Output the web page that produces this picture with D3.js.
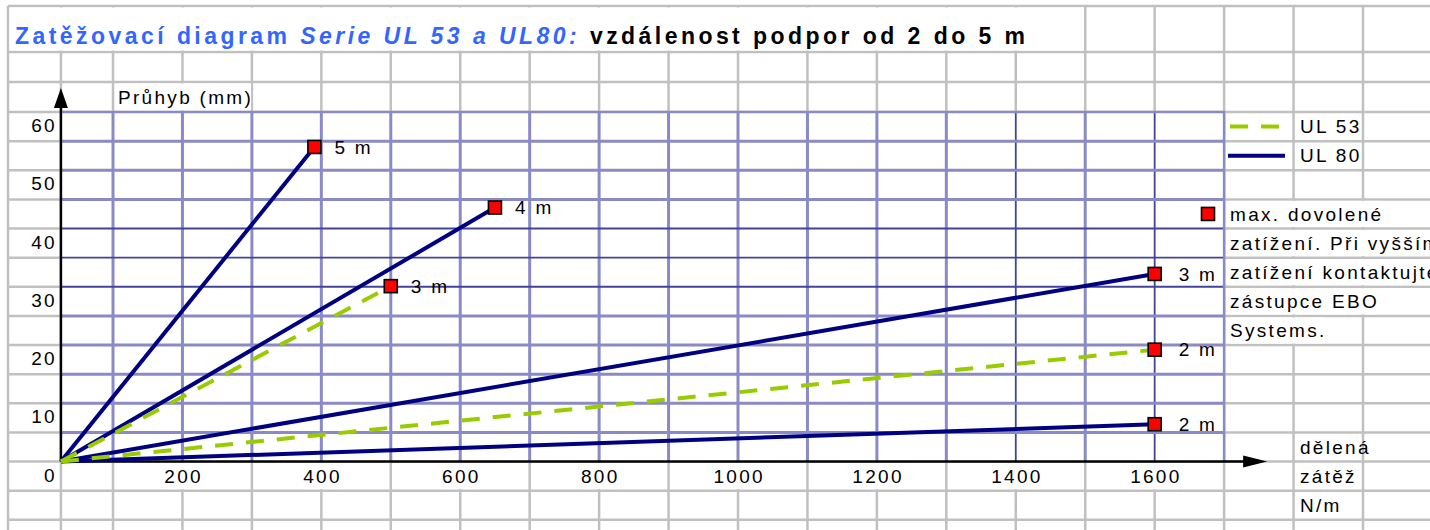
<!DOCTYPE html>
<html>
<head>
<meta charset="utf-8">
<script src="https://d3js.org/d3.v7.min.js"></script>
<style>
  body { margin: 0; background: #fff; }
  text { font-family: "Liberation Sans", Arial, sans-serif; }
</style>
</head>
<body>
<svg id="chart"></svg>
<script>
// chart size
const width = 1430;
const height = 530;

// values: load in N/m, deflection in mm
const startLoad = 25;
const ul80Spans = ["5 m", "4 m", "3 m", "2 m"];
const ul80Loads = [390, 650, 1600, 1600];
const ul80Defl = [54, 43.6, 32.2, 6.4];
const ul53Spans = ["3 m", "2 m"];
const ul53Loads = [500, 1600];
const ul53Defl = [30.1, 19.2];

// tick labels and texts
const xTicks = [200, 400, 600, 800, 1000, 1200, 1400, 1600];
const yTicks = [0, 10, 20, 30, 40, 50, 60];
const legendNames = ["UL 53", "UL 80"];
const noteLines = ["max. dovolené", "zatížení. Při vyšším", "zatížení kontaktujte", "zástupce EBO", "Systems."];
const unitLines = ["dělená", "zátěž", "N/m"];

// colours
const navy = "#000080";
const green = "#99cc00";
const titleBlue = "#3366ff";
const sheetGray = "#c0c0c0";
const gridLight = "#8a8ac6";
const gridDark = "#43439c";

const fontSize = "19px";
const spacing = "2.3px";

// scales (the sheet columns sit on 100 N/m steps, the rows on 5 mm steps)
const x = d3.scaleLinear().domain([0, 1900]).range([43.56, 1363]);
const y = d3.scaleLinear().domain([0, 60]).range([461.5, 112]);

const plotLeft = x(startLoad);
const plotRight = x(1700);
const plotTop = y(60);
const plotBottom = y(0);

const svg = d3.select("#chart")
    .attr("width", width)
    .attr("height", height);

svg.append("rect").attr("width", width).attr("height", height).attr("fill", "#fff");

// spreadsheet grid behind the chart
const colEdges = [8, plotLeft].concat(d3.range(100, 2000, 100).map(v => x(v)));
const rowEdges = [6, 52, 82].concat(d3.range(60, -15, -5).map(v => y(v)));

const sheet = svg.append("g");
sheet.selectAll("line.col")
    .data(colEdges)
    .enter()
    .append("line")
    .attr("class", "col")
    .attr("x1", d => d).attr("x2", d => d)
    .attr("y1", 6).attr("y2", height)
    .attr("stroke", sheetGray)
    .attr("stroke-width", 2.5);
sheet.selectAll("line.row")
    .data(rowEdges)
    .enter()
    .append("line")
    .attr("class", "row")
    .attr("x1", 8).attr("x2", width)
    .attr("y1", d => d).attr("y2", d => d)
    .attr("stroke", sheetGray)
    .attr("stroke-width", 2.5);

// merged title cell
sheet.append("rect")
    .attr("x", 9.5).attr("y", 7.5)
    .attr("width", x(1500) - 11)
    .attr("height", 52 - 9)
    .attr("fill", "#fff");

// layer for white boxes behind spilled cell text
const covers = svg.append("g");

function coverText(sel, rowTop, rowBottom) {
    sel.each(function() {
        const b = this.getBBox();
        covers.append("rect")
            .attr("x", b.x)
            .attr("y", rowTop + 1.5)
            .attr("width", b.width - 2)
            .attr("height", rowBottom - rowTop - 3)
            .attr("fill", "#fff");
    });
}

function cellText(g, str, px, py, anchor) {
    return g.append("text")
        .attr("x", px)
        .attr("y", py)
        .attr("dy", "0.35em")
        .attr("text-anchor", anchor || "start")
        .style("font-size", fontSize)
        .style("letter-spacing", spacing)
        .attr("fill", "#000")
        .text(str);
}

// plot area
svg.append("rect")
    .attr("x", plotLeft).attr("y", plotTop)
    .attr("width", plotRight - plotLeft)
    .attr("height", plotBottom - plotTop)
    .attr("fill", "#fff");

const grid = svg.append("g");
const gridX = d3.range(100, 1700, 100);
const gridY = d3.range(5, 60, 5);
const darkX = [1400, 1600];
const darkY = [30, 35, 40];

grid.selectAll("line.gx")
    .data(gridX)
    .enter()
    .append("line")
    .attr("x1", d => x(d)).attr("x2", d => x(d))
    .attr("y1", plotTop).attr("y2", plotBottom)
    .attr("stroke", d => darkX.includes(d) ? gridDark : gridLight)
    .attr("stroke-width", d => darkX.includes(d) ? 1.8 : 3);
grid.selectAll("line.gy")
    .data(gridY)
    .enter()
    .append("line")
    .attr("x1", plotLeft).attr("x2", plotRight)
    .attr("y1", d => y(d)).attr("y2", d => y(d))
    .attr("stroke", d => darkY.includes(d) ? gridDark : gridLight)
    .attr("stroke-width", d => darkY.includes(d) ? 1.8 : 3);

// plot border, top and right
grid.append("path")
    .attr("d", `M${plotLeft},${plotTop}H${plotRight}V${plotBottom}`)
    .attr("fill", "none")
    .attr("stroke", gridLight)
    .attr("stroke-width", 2.5);

// axes with arrow heads
const axes = svg.append("g");
const yTip = plotTop - 24;
const xTip = plotRight + 43;
axes.append("line")
    .attr("x1", plotLeft).attr("x2", plotLeft)
    .attr("y1", plotBottom).attr("y2", yTip + 18)
    .attr("stroke", "#000").attr("stroke-width", 2.5);
axes.append("path")
    .attr("d", `M${plotLeft},${yTip}L${plotLeft - 7},${yTip + 20}L${plotLeft + 7},${yTip + 20}Z`)
    .attr("fill", "#000");
axes.append("line")
    .attr("x1", plotLeft).attr("x2", xTip - 22)
    .attr("y1", plotBottom).attr("y2", plotBottom)
    .attr("stroke", "#000").attr("stroke-width", 2.5);
axes.append("path")
    .attr("d", `M${xTip},${plotBottom}L${xTip - 24},${plotBottom - 6}L${xTip - 24},${plotBottom + 6}Z`)
    .attr("fill", "#000");

// series
const ul80 = ul80Loads.map((l, i) => ({span: ul80Spans[i], load: l, defl: ul80Defl[i]}));
const ul53 = ul53Loads.map((l, i) => ({span: ul53Spans[i], load: l, defl: ul53Defl[i]}));

const line = d3.line().x(d => x(d[0])).y(d => y(d[1]));
const lines = svg.append("g");

lines.selectAll("path.ul80")
    .data(ul80)
    .enter()
    .append("path")
    .attr("d", d => line([[startLoad, 0], [d.load, d.defl]]))
    .attr("fill", "none")
    .attr("stroke", navy)
    .attr("stroke-width", 4);

lines.selectAll("path.ul53")
    .data(ul53)
    .enter()
    .append("path")
    .attr("d", d => line([[startLoad, 0], [d.load, d.defl]]))
    .attr("fill", "none")
    .attr("stroke", green)
    .attr("stroke-width", 4)
    .attr("stroke-dasharray", "18,13");

// markers for max allowed load and span labels
const points = ul80.concat(ul53);
const marks = svg.append("g");
marks.selectAll("rect")
    .data(points)
    .enter()
    .append("rect")
    .attr("x", d => x(d.load) - 6.5)
    .attr("y", d => y(d.defl) - 6.5)
    .attr("width", 13)
    .attr("height", 13)
    .attr("fill", "#ff0000")
    .attr("stroke", "#000")
    .attr("stroke-width", 1.6);

points.forEach(d => {
    cellText(marks, d.span, x(d.load) + (d.load > 1500 ? 24 : 20), y(d.defl));
});

// tick labels typed into the sheet cells
const labels = svg.append("g");
labels.selectAll("text.yl")
    .data(yTicks)
    .enter()
    .append("text")
    .attr("x", plotLeft - 4)
    .attr("y", d => y(d - 2.5) - 1)
    .attr("dy", "0.35em")
    .attr("text-anchor", "end")
    .style("font-size", fontSize)
    .style("letter-spacing", spacing)
    .text(d => d);

const xLabels = labels.selectAll("text.xl")
    .data(xTicks)
    .enter()
    .append("text")
    .attr("x", d => x(d) + 1.2)
    .attr("y", y(-2.5))
    .attr("dy", "0.35em")
    .attr("text-anchor", "middle")
    .style("font-size", fontSize)
    .style("letter-spacing", spacing)
    .text(d => d);
coverText(xLabels, y(0), y(-5));

const yTitle = cellText(labels, "Průhyb (mm)", 118, (82 + plotTop) / 2);
coverText(yTitle, 82, plotTop);

// unit note bottom right
unitLines.forEach((t, i) => cellText(labels, t, 1300, y(2.5 - 5 * i)));

// legend
const legend = svg.append("g");
const legendRows = [y(57.5), y(52.5)];
legend.append("line")
    .attr("x1", 1230).attr("x2", 1279)
    .attr("y1", legendRows[0]).attr("y2", legendRows[0])
    .attr("stroke", green).attr("stroke-width", 4)
    .attr("stroke-dasharray", "18,13");
legend.append("line")
    .attr("x1", 1228).attr("x2", 1285)
    .attr("y1", legendRows[1]).attr("y2", legendRows[1])
    .attr("stroke", navy).attr("stroke-width", 4);
legendNames.forEach((t, i) => cellText(legend, t, 1300, legendRows[i]));

legend.append("rect")
    .attr("x", 1208 - 6.5).attr("y", y(42.5) - 6.5)
    .attr("width", 13).attr("height", 13)
    .attr("fill", "#ff0000")
    .attr("stroke", "#000")
    .attr("stroke-width", 1.6);
noteLines.forEach((t, i) => {
    const row = 42.5 - 5 * i;
    const txt = cellText(legend, t, 1230, y(row));
    coverText(txt, y(row + 2.5), y(row - 2.5));
});

// title in the merged cell
const title = svg.append("text")
    .attr("x", 15)
    .attr("y", 44)
    .style("font-size", "23px")
    .style("font-weight", "bold");
title.append("tspan").attr("fill", titleBlue).text("Zatěžovací diagram ");
title.append("tspan").attr("fill", titleBlue).style("font-style", "italic").text("Serie UL 53 a UL80:");
title.append("tspan").attr("fill", "#000").text(" vzdálenost podpor od 2 do 5 m");

// stretch the title over the same width as in the sheet
const titleStr = title.text();
const rawLen = title.node().getComputedTextLength();
title.style("letter-spacing", ((1010 - rawLen) / (titleStr.length - 1)) + "px");
</script>
</body>
</html>
